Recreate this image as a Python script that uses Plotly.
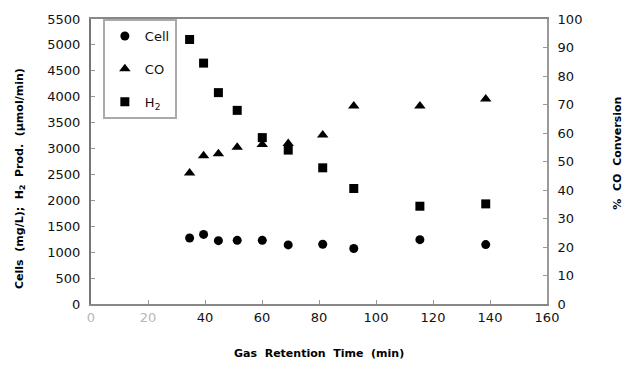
import plotly.graph_objects as go

# Gas retention time (min)
grt = [34.6, 39.5, 44.7, 51.3, 60.1, 69.2, 81.3, 92.2, 115.4, 138.5]
# Cells (mg/L)
cells = [1273, 1343, 1222, 1229, 1229, 1140, 1153, 1070, 1241, 1146]
# H2 production (umol/min)
h2 = [5105, 4649, 4079, 3737, 3211, 2970, 2628, 2229, 1887, 1932]
# % CO conversion
co = [46.0, 52.0, 52.7, 55.0, 56.0, 56.3, 59.3, 69.5, 69.5, 71.9]

x_ticks = [0, 20, 40, 60, 80, 100, 120, 140, 160]
x_ticktext = ["<span style='color:#b8b8b8'>0</span>", "<span style='color:#b8b8b8'>20</span>",
              "40", "60", "80", "100", "120", "140", "160"]

tickfont = dict(family="DejaVu Sans", size=13, color="#111")
titlefont = dict(family="DejaVu Sans", size=11, color="#000")

fig = go.Figure()
fig.add_trace(go.Scatter(x=grt, y=cells, mode="markers", name="Cell",
                         legendgroup="a",
                         marker=dict(symbol="circle", size=9, color="#000")))
fig.add_trace(go.Scatter(x=grt, y=co, mode="markers", name="CO", yaxis="y2",
                         legendgroup="b",
                         marker=dict(symbol="triangle-up", size=10, color="#000")))
fig.add_trace(go.Scatter(x=grt, y=h2, mode="markers", name="H<sub>2</sub>",
                         legendgroup="c",
                         marker=dict(symbol="square", size=9, color="#000")))

fig.update_layout(
    width=633, height=374,
    margin=dict(l=91, r=86, t=14, b=70),
    paper_bgcolor="white", plot_bgcolor="white",
    showlegend=True,
    legend=dict(x=0.026, y=1.0, xanchor="left", yanchor="top",
                bordercolor="#aaa", borderwidth=2, bgcolor="white",
                font=dict(family="DejaVu Sans", size=13, color="#111"),
                traceorder="grouped", tracegroupgap=13, itemwidth=30),
    xaxis=dict(range=[0, 160], tickvals=x_ticks, ticktext=x_ticktext,
               showgrid=False, zeroline=False,
               showline=True, linecolor="#888", linewidth=2, mirror=True,
               ticks="inside", ticklen=4, tickcolor="#999", tickfont=tickfont),
    yaxis=dict(range=[0, 5500], dtick=500, showgrid=False, zeroline=False,
               showline=True, linecolor="#777", linewidth=2,
               ticks="inside", ticklen=4, tickcolor="#999", tickfont=tickfont,
               ticklabelstandoff=6),
    yaxis2=dict(range=[0, 100], dtick=10, overlaying="y", side="right",
                showgrid=False, zeroline=False,
                showline=True, linecolor="#999", linewidth=2,
                ticks="inside", ticklen=4, tickcolor="#999", tickfont=tickfont,
                ticklabelstandoff=6),
    annotations=[
        dict(text="<b>Cells  (mg/L);  H<sub>2</sub>  Prod.  (µmol/min)</b>",
             xref="paper", yref="paper", x=-0.157, y=0.44, xanchor="center",
             yanchor="middle", textangle=-90, showarrow=False, font=titlefont),
        dict(text="<b>%  CO  Conversion</b>",
             xref="paper", yref="paper", x=1.155, y=0.53, xanchor="center",
             yanchor="middle", textangle=-90, showarrow=False, font=titlefont),
        dict(text="<b>Gas  Retention  Time  (min)</b>",
             xref="paper", yref="paper", x=0.5, y=-0.175, xanchor="center",
             yanchor="middle", showarrow=False, font=titlefont),
    ],
)

fig.write_html("out.html")
